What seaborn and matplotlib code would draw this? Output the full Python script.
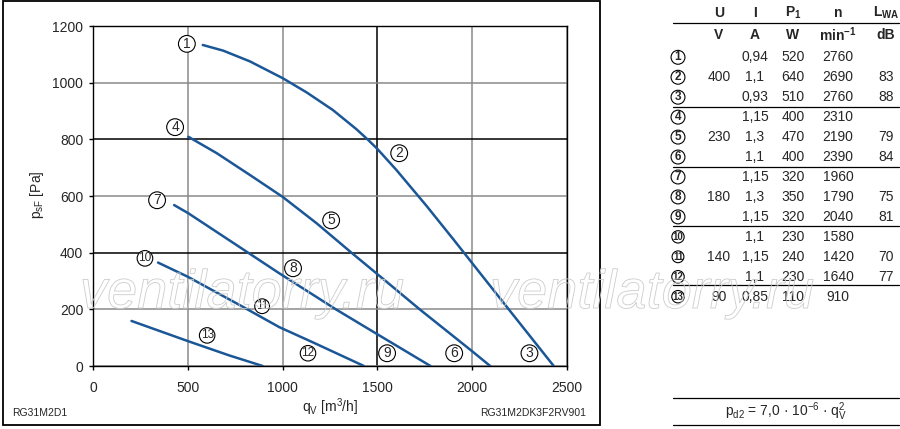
import pandas as pd
import seaborn as sns
import matplotlib.pyplot as plt
import matplotlib.patheffects as pe
from matplotlib.patches import Rectangle
from matplotlib.lines import Line2D

# fan curves: qV [m3/h], psF [Pa]
qv_a = [579, 687, 828, 1000, 1126, 1266, 1389, 1451, 1500, 1600, 1758, 1902, 2033, 2201, 2430]
ps_a = [1133, 1113, 1075, 1016, 966, 903, 836, 798, 766, 692, 566, 446, 335, 193, 0]
qv_b = [503, 653, 828, 1000, 1179, 1363, 1540, 1723, 1998, 2095]
ps_b = [809, 751, 674, 597, 504, 400, 302, 200, 53, 0]
qv_c = [428, 503, 784, 983, 1281, 1500, 1780]
ps_c = [568, 539, 415, 327, 200, 112, 0]
qv_d = [343, 500, 790, 983, 1158, 1429]
ps_d = [365, 315, 209, 137, 84, 0]
qv_e = [203, 500, 720, 895]
ps_e = [159, 88, 37, 0]

# operating point numbers on the curves
point_ids = list(range(1, 14))
label_pos = [(495, 1137), (1615, 751), (2302, 45), (433, 843), (1256, 514), (1905, 45),
             (338, 585), (1055, 345), (1551, 45), (274, 380), (892, 211), (1134, 45), (602, 108)]

# table
col_u = ["", "400", "", "", "230", "", "", "180", "", "", "140", "", "90"]
col_i = ["0,94", "1,1", "0,93", "1,15", "1,3", "1,1", "1,15", "1,3", "1,15", "1,1", "1,15", "1,1", "0,85"]
col_p = ["520", "640", "510", "400", "470", "400", "320", "350", "320", "230", "240", "230", "110"]
col_n = ["2760", "2690", "2760", "2310", "2190", "2390", "1960", "1790", "2040", "1580", "1420", "1640", "910"]
col_l = ["", "83", "88", "", "79", "84", "", "75", "81", "", "70", "77", ""]
head_1 = ["U", "I", "P$_{\\mathbf{1}}$", "n", "L$_{\\mathbf{WA}}$"]
head_2 = ["V", "A", "W", "min$^{\\mathbf{-1}}$", "dB"]

curves = []
for name, qv, ps in [("A", qv_a, ps_a), ("B", qv_b, ps_b), ("C", qv_c, ps_c),
                     ("D", qv_d, ps_d), ("E", qv_e, ps_e)]:
    curves.append(pd.DataFrame({"curve": name, "qv": qv, "psf": ps}))
df = pd.concat(curves, ignore_index=True)

sns.set_style("white")
plt.rcParams["font.family"] = ["Liberation Sans", "DejaVu Sans"]
plt.rcParams["mathtext.fontset"] = "custom"
plt.rcParams["mathtext.rm"] = "Liberation Sans"
plt.rcParams["mathtext.it"] = "Liberation Sans"
plt.rcParams["mathtext.bf"] = "Liberation Sans:bold"

W, H = 900, 429
fig = plt.figure(figsize=(9, 4.29), dpi=100)
ax = fig.add_axes([93 / W, 1 - 366 / H, (567 - 93) / W, (366 - 26) / H])

blue = "#1b5797"
sns.lineplot(data=df, x="qv", y="psf", units="curve", estimator=None,
             color=blue, linewidth=1.8, ax=ax, zorder=3)

ax.set_xlim(0, 2500)
ax.set_ylim(0, 1200)
ax.set_xticks(range(0, 2501, 500))
ax.set_yticks(range(0, 1201, 200))
ax.grid(True, linewidth=1.1)
for val, gl in zip(ax.get_xticks(), ax.xaxis.get_gridlines()):
    gl.set_color("black" if val == 1500 else "#8a8a8a")
for val, gl in zip(ax.get_yticks(), ax.yaxis.get_gridlines()):
    gl.set_color("black" if val in (400, 800) else "#8a8a8a")
for s in ax.spines.values():
    s.set_color("black")
    s.set_linewidth(1.0)
ax.tick_params(direction="out", length=3, width=1, color="black", labelsize=10,
               bottom=True, left=True)
ax.tick_params(axis="x", pad=8)
ax.tick_params(axis="y", pad=4)
ax.set_xlabel("")
ax.set_ylabel("")

for pid, (x, y) in zip(point_ids, label_pos):
    fs = 10 if pid < 10 else 8.5
    ax.text(x, y, str(pid), ha="center", va="center", fontsize=fs, zorder=5,
            bbox=dict(boxstyle="circle,pad=0.1", fc="white", ec="black", lw=0.8))

# axis titles
fig.text(330 / W, 1 - 407 / H, "q$_{\\mathrm{V}}$ [m$^{3}$/h]", ha="center", va="center", fontsize=10)
fig.text(37 / W, 1 - 195 / H, "p$_{\\mathrm{sF}}$ [Pa]", ha="center", va="center",
         fontsize=10, rotation=90)
fig.text(12 / W, 1 - 413 / H, "RG31M2D1", ha="left", va="center", fontsize=7.5)
fig.text(586 / W, 1 - 413 / H, "RG31M2DK3F2RV901", ha="right", va="center", fontsize=7.5)

# outer frame of the diagram
fig.add_artist(Rectangle((3 / W, 1 - 425 / H), 597 / W, 424 / H, transform=fig.transFigure,
                         fill=False, ec="black", lw=1.3))

# table on the right
cols_x = [719, 755, 793, 838, 886]
for x, t1, t2 in zip(cols_x, head_1, head_2):
    fig.text(x / W, 1 - 13 / H, t1, ha="center", va="center", fontsize=10, fontweight="bold")
    fig.text(x / W, 1 - 35 / H, t2, ha="center", va="center", fontsize=10, fontweight="bold")

for i, pid in enumerate(point_ids):
    yy = 1 - (57.3 + 19.95 * i) / H
    fs = 8.5 if pid < 10 else 7
    fig.text(678 / W, yy, str(pid), ha="center", va="center", fontsize=fs, fontweight="bold",
             bbox=dict(boxstyle="circle,pad=0.08", fc="white", ec="black", lw=0.8))
    for x, col in zip(cols_x, [col_u, col_i, col_p, col_n, col_l]):
        fig.text(x / W, yy, col[i], ha="center", va="center", fontsize=10)

for ly in [23, 107, 167, 226, 285, 398, 425]:
    fig.add_artist(Line2D([673 / W, 899 / W], [1 - ly / H, 1 - ly / H], transform=fig.transFigure,
                          color="black", lw=0.9))

fig.text(786 / W, 1 - 412 / H, "p$_{\\mathrm{d2}}$ = 7,0 · 10$^{-6}$ · q$_{\\mathrm{V}}^{2}$",
         ha="center", va="center", fontsize=10)

# watermark
for wx in [80, 490]:
    fig.text(wx / W, 1 - 308 / H, "ventilatorry.ru", ha="left", va="baseline", fontsize=39,
             style="italic", color=(1, 1, 1, 0.0), zorder=10,
             path_effects=[pe.Stroke(linewidth=0.6, foreground="#cccccc")])

fig.savefig("out.png", dpi=100)
